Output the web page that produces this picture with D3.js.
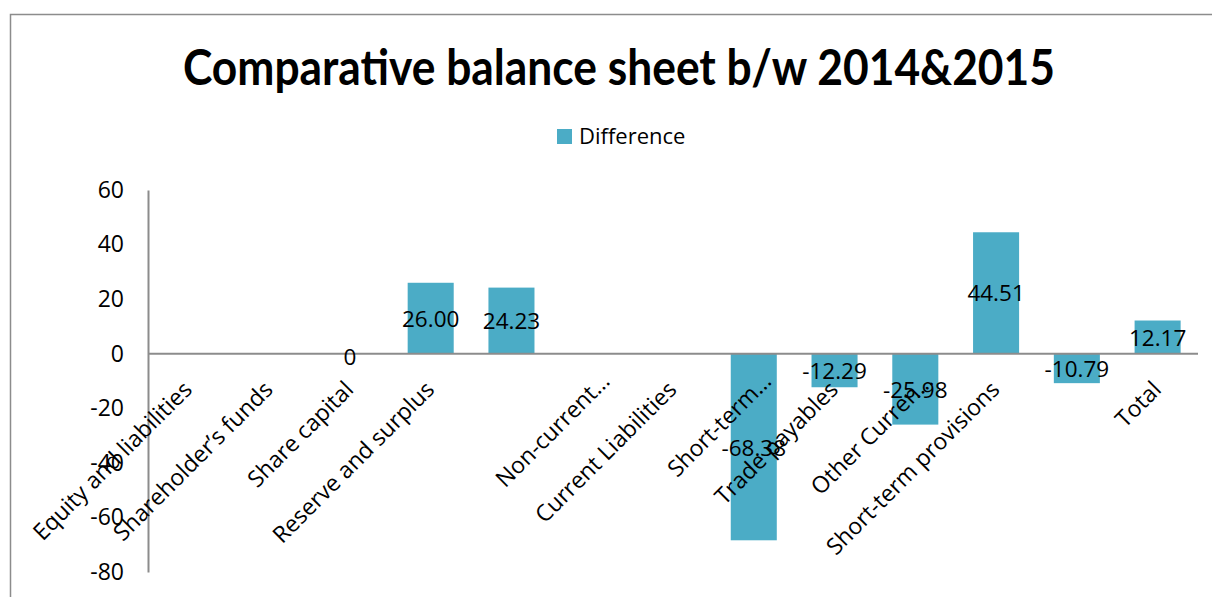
<!DOCTYPE html>
<html>
<head>
<meta charset="utf-8">
<script src="https://cdn.jsdelivr.net/npm/d3@7"></script>
<style>
  html, body { margin: 0; padding: 0; background: #fff; }
  svg { display: block; font-family: "Open Sans", "Noto Sans", sans-serif; }
</style>
</head>
<body>
<svg id="chart" width="1212" height="597"></svg>
<script>
// Balance sheet line items (two rows have no caption)
const categories = [
  "Equity and liabilities",
  "Shareholder\u2019s funds",
  "Share capital",
  "Reserve and surplus",
  "",
  "Non-current\u2026",
  "Current Liabilities",
  "Short-term\u2026",
  "Trade payables",
  "Other Curren\u2026",
  "Short-term provisions",
  "",
  "Total"
];

// Difference between 2015 and 2014 (null = no value)
const differences = [null, null, 0, 26.00, 24.23, null, null, -68.38, -12.29, -25.98, 44.51, -10.79, 12.17];

const yTicks = [-80, -60, -40, -20, 0, 20, 40, 60];
const seriesName = "Difference";
const titleText = "Comparative balance sheet b/w 2014&2015";

const W = 1212, H = 597;
const plot = { left: 148, right: 1198, top: 190, bottom: 572 };
const barColor = "#4BACC6";
const axisColor = "#8c8c8c";

const svg = d3.select("#chart");

svg.append("rect").attr("width", W).attr("height", H).attr("fill", "#fff");

// chart area frame
svg.append("rect")
  .attr("x", 10.5).attr("y", 14.5)
  .attr("width", 1230).attr("height", 620)
  .attr("fill", "none").attr("stroke", axisColor).attr("stroke-width", 1.5);

// title
svg.append("text")
  .attr("x", 619).attr("y", 85)
  .attr("text-anchor", "middle")
  .attr("font-family", "Lato, 'Open Sans', sans-serif")
  .attr("font-weight", 700)
  .attr("font-size", 50)
  .attr("textLength", 872)
  .attr("lengthAdjust", "spacingAndGlyphs")
  .attr("fill", "#000")
  .text(titleText);

// legend
svg.append("rect")
  .attr("x", 557).attr("y", 129).attr("width", 15).attr("height", 15)
  .attr("fill", barColor);
svg.append("text")
  .attr("x", 579).attr("y", 144)
  .attr("font-size", 22).attr("fill", "#000")
  .text(seriesName);

const x = d3.scaleBand()
  .domain(d3.range(categories.length))
  .range([plot.left, plot.right])
  .paddingInner(0.43)
  .paddingOuter(0.215);

const y = d3.scaleLinear()
  .domain([d3.min(yTicks), d3.max(yTicks)])
  .range([plot.bottom, plot.top]);

// value axis
const yAxis = d3.axisLeft(y).tickValues(yTicks).tickSize(0).tickPadding(24)
  .tickFormat(d => String(d));
const gy = svg.append("g")
  .attr("transform", `translate(${plot.left},0)`)
  .call(yAxis);
gy.select(".domain").attr("stroke", axisColor).attr("stroke-width", 2);
gy.selectAll("text")
  .attr("font-size", 23).attr("fill", "#000")
  .attr("font-family", "'Open Sans', 'Noto Sans', sans-serif");

// bars
const data = differences.map((v, i) => ({ i, v })).filter(d => d.v !== null);

svg.append("g").selectAll("rect")
  .data(data.filter(d => d.v !== 0))
  .join("rect")
  .attr("x", d => x(d.i))
  .attr("width", x.bandwidth())
  .attr("y", d => y(Math.max(0, d.v)))
  .attr("height", d => Math.abs(y(d.v) - y(0)))
  .attr("fill", barColor);

// zero line
svg.append("line")
  .attr("x1", plot.left).attr("x2", plot.right)
  .attr("y1", y(0)).attr("y2", y(0))
  .attr("stroke", axisColor).attr("stroke-width", 2);

// category labels, rotated
svg.append("g").selectAll("text")
  .data(categories.map((c, i) => ({ c, i })).filter(d => d.c))
  .join("text")
  .attr("transform", d => {
    const cx = x(d.i) + x.bandwidth() / 2;
    const shift = d.c.endsWith("\u2026") ? 14 : 0;
    return `translate(${cx + 5 + shift},${391 - shift * 0.6}) rotate(-45)`;
  })
  .attr("text-anchor", "end")
  .attr("font-size", 23)
  .attr("fill", "#000")
  .text(d => d.c);

// value labels at bar centres
svg.append("g").selectAll("text")
  .data(data)
  .join("text")
  .attr("x", d => x(d.i) + x.bandwidth() / 2)
  .attr("y", d => (y(d.v) + y(0)) / 2 + (d.v === 0 ? 3 : 0))
  .attr("text-anchor", "middle")
  .attr("dominant-baseline", "central")
  .attr("font-size", 22.5)
  .attr("fill", "#000")
  .text(d => d.v === 0 ? "0" : d.v.toFixed(2));
</script>
</body>
</html>
